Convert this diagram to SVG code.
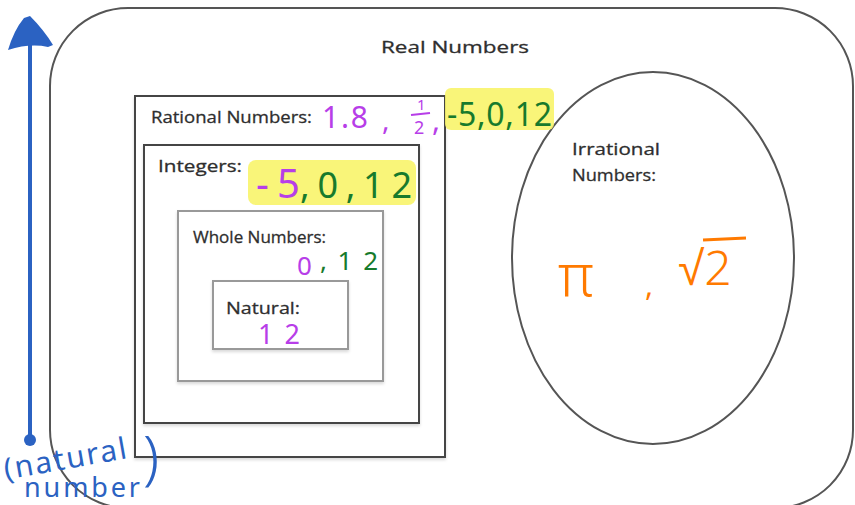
<svg xmlns="http://www.w3.org/2000/svg" width="855" height="505" viewBox="0 0 855 505">
<style>
.lbl{font-family:"Open Sans","Liberation Sans",sans-serif;fill:#2e2e2e;font-size:17px;stroke:#2e2e2e;stroke-width:0.3}
.hw{font-family:"Noto Sans","Liberation Sans",sans-serif;font-weight:400}
.pu{fill:#b73ee8}
.gr{fill:#177a2c}
.or{fill:#ff7a00}
.bl{fill:#2b62c2}
.hl{fill:#f8f46a;opacity:0.9}
.box{fill:#fff;stroke:#444;stroke-width:2}
.lbox{fill:#fff;stroke:#999;stroke-width:2}
</style>
<defs>
<filter id="sh" x="-10%" y="-10%" width="130%" height="130%">
<feDropShadow dx="0" dy="2" stdDeviation="1.5" flood-color="#000" flood-opacity="0.15"/>
</filter>
</defs>
<rect width="855" height="505" fill="#fff"/>
<g id="real">
<rect x="50" y="8" width="803" height="500" rx="78" fill="#fff" stroke="#555" stroke-width="2"/>
<text class="lbl" x="381" y="53" font-size="19" textLength="148" lengthAdjust="spacingAndGlyphs">Real Numbers</text>
</g>
<g id="rational">
<rect class="box" x="135" y="96" width="310" height="361" filter="url(#sh)"/>
<text class="lbl" x="151" y="123" textLength="161" lengthAdjust="spacingAndGlyphs">Rational Numbers:</text>
</g>
<g id="integers">
<rect class="box" x="144" y="145" width="275" height="278" filter="url(#sh)"/>
<text class="lbl" x="158" y="172" textLength="84" lengthAdjust="spacingAndGlyphs">Integers:</text>
</g>
<g id="whole">
<rect class="lbox" x="178" y="211" width="205" height="170" filter="url(#sh)"/>
<text class="lbl" x="193" y="243" font-size="16" textLength="133" lengthAdjust="spacingAndGlyphs">Whole Numbers:</text>
</g>
<g id="natural">
<rect class="lbox" x="213" y="281" width="135" height="68" filter="url(#sh)"/>
<text class="lbl" x="226" y="314" textLength="74" lengthAdjust="spacingAndGlyphs">Natural:</text>
</g>
<g id="irrational">
<ellipse cx="653" cy="258" rx="141" ry="186" fill="#fff" stroke="#555" stroke-width="2"/>
<text class="lbl" x="572" y="155" textLength="88" lengthAdjust="spacingAndGlyphs">Irrational</text>
<text class="lbl" x="572" y="181" textLength="84" lengthAdjust="spacingAndGlyphs">Numbers:</text>
</g>
<g id="annotations">
<rect class="hl" x="445" y="88" width="109" height="42" rx="6"/>
<rect class="hl" x="248" y="160" width="168" height="45" rx="8"/>
<text class="hw pu" x="322" y="128" font-size="30" textLength="46" lengthAdjust="spacing">1.8</text>
<text class="hw pu" x="382" y="130" font-size="28">,</text>
<text class="hw pu" x="417" y="110" font-size="15">1</text>
<line x1="411" y1="115" x2="430" y2="113" stroke="#b73ee8" stroke-width="2"/>
<text class="hw pu" x="414" y="134" font-size="18">2</text>
<text class="hw pu" x="432" y="131" font-size="30">,</text>
<text class="hw gr" x="447" y="126" font-size="32" textLength="105" lengthAdjust="spacing">-5,0,12</text>
<text class="hw pu" x="256" y="198" font-size="40" textLength="44" lengthAdjust="spacing">-5</text>
<text class="hw gr" x="300" y="198" font-size="36" textLength="112" lengthAdjust="spacing">,0,12</text>
<text class="hw pu" x="297" y="275" font-size="26">0</text>
<text class="hw gr" x="320" y="270" font-size="26" textLength="58" lengthAdjust="spacing">,12</text>
<text class="hw pu" x="258" y="344" font-size="27" textLength="42" lengthAdjust="spacing">12</text>
<text class="hw or" x="558" y="296" font-size="58" style="font-weight:300">π</text>
<text class="hw or" x="645" y="296" font-size="30">,</text>
<text class="hw or" x="678" y="285" font-size="48" style="font-weight:300">√2</text>
<line x1="703" y1="240" x2="746" y2="238" stroke="#ff7a00" stroke-width="3"/>
</g>
<g id="connectors">
<line x1="30" y1="440" x2="30" y2="45" stroke="#2b62c2" stroke-width="4"/>
<path d="M8,50 Q14,30 24,18 L30,16 Q44,30 53,45 L48,47 Q30,43 8,50 Z" fill="#2b62c2"/>
<circle cx="30" cy="440" r="6" fill="#2b62c2"/>
<text class="hw bl" x="4" y="470" font-size="30" transform="rotate(-10 60 465)" textLength="124" lengthAdjust="spacing">(natural</text>
<text class="hw bl" x="24" y="497" font-size="27" textLength="116" lengthAdjust="spacing">number</text>
<text class="hw bl" x="143" y="478" font-size="58" style="font-weight:300">)</text>
</g>
</svg>
